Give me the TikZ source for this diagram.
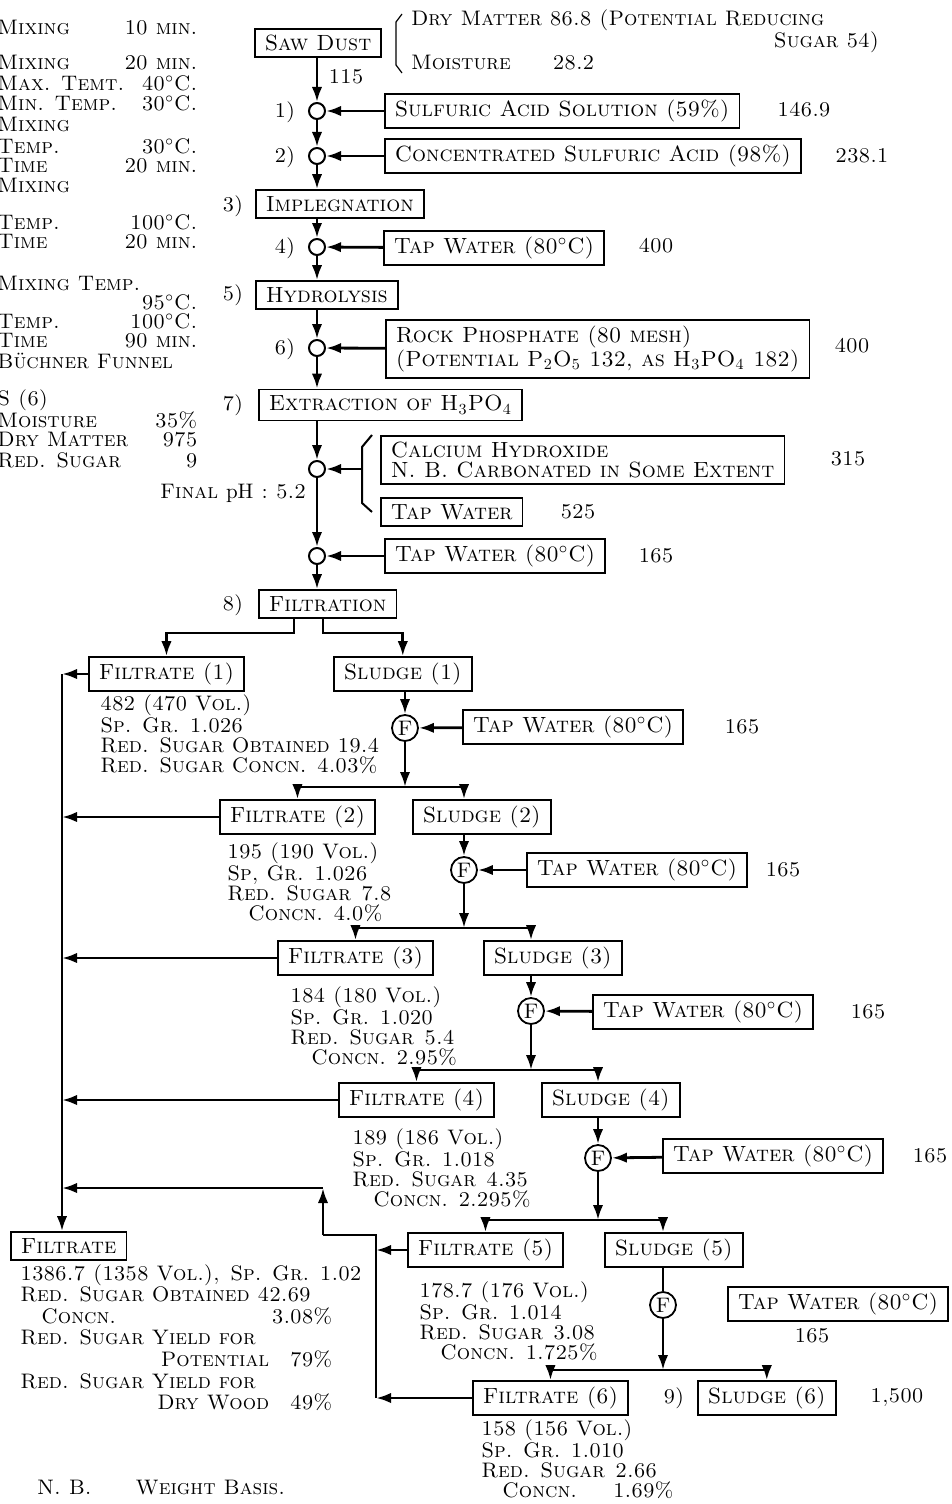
\documentclass[tikz,border=0pt]{standalone}
\usetikzlibrary{arrows.meta,positioning,calc}

\tikzset{
  box/.style={draw, line width=0.8pt, inner xsep=5pt, inner ysep=3pt, minimum height=14pt, anchor=west,
    font=\fontsize{11}{10}\selectfont\scshape},
  mix/.style={circle, draw, line width=1pt, minimum size=8pt, inner sep=0pt},
  fcirc/.style={circle, draw, line width=0.9pt, minimum size=13pt, inner sep=0pt},
  flow/.style={line width=1.4pt, -{Latex[length=7.5pt,width=5.2pt]}},
  pipe/.style={line width=1.4pt},
  info/.style={anchor=north west, align=left, inner sep=0pt},
}

\begin{document}
\begin{tikzpicture}[x=0.5pt, y=-0.5pt, font=\fontsize{10.5}{10}\selectfont\scshape]
\useasboundingbox (0,0) rectangle (952,1504);

% conditions of each step, left margin
\foreach \y/\a/\b in {28/Mixing/10 min., 63/Mixing/20 min., 83/Max. Temt./40$^\circ$C.,
    103/Min. Temp./30$^\circ$C., 124/Mixing/{}, 146/Temp./30$^\circ$C., 166/Time/20 min.,
    185/Mixing/{}, 222/Temp./100$^\circ$C., 242/Time/20 min., 283/Mixing Temp./{},
    302/{}/95$^\circ$C., 321/Temp./100$^\circ$C., 341/Time/90 min., 361/Büchner Funnel/{},
    400/S (6)/{}, 420/Moisture/35\%, 440/Dry Matter/975, 460/Red. Sugar/9}
  \node[anchor=west, inner sep=0pt] (note\y) at (-3,\y) {\makebox[100pt][l]{\a\hfill\b}};

% saw dust
\node[box] (saw) at (254,43) {Saw Dust};
\draw[line width=0.6pt] (402,14) -- (396,22) -- (396,65) -- (402,73);
\node[anchor=west] (dry) at (404,20) {Dry Matter 86.8 (Potential Reducing};
\node[anchor=east] (sug) at (886,42) {Sugar 54)};
\node[anchor=west] (moi) at (404,63) {Moisture\qquad 28.2};
\node (q0) at (346,77) {115};

% acid impregnation
\node[mix] (m1) at (317,111) {};
\node (l1) at (285,112) {1)};
\node[box] (acid1) at (384,111) {Sulfuric Acid Solution (59\%)};
\node (q1) at (804,110) {146.9};
\draw[flow] (saw.south -| m1) -- (m1);
\draw[flow] (acid1) -- (m1);

\node[mix] (m2) at (317,156) {};
\node (l2) at (285,157) {2)};
\node[box] (acid2) at (384,156) {Concentrated Sulfuric Acid (98\%)};
\node (q2) at (862,156) {238.1};
\draw[flow] (m1) -- (m2);
\draw[flow] (acid2) -- (m2);

\node[box] (imp) at (255,204) {Implegnation};
\node (l3) at (233,206) {3)};
\draw[flow] (m2) -- (m2 |- imp.north);

% hydrolysis
\node[mix] (m4) at (317,247) {};
\node (l4) at (285,248) {4)};
\node[box] (tw1) at (383,248) {Tap Water (80$^\circ$C)};
\node (q4) at (656,246) {400};
\draw[flow] (imp.south -| m4) -- (m4);
\draw[flow] (tw1) -- (m4);

\node[box] (hyd) at (255,295) {Hydrolysis};
\node (l5) at (233,295) {5)};
\draw[flow] (m4) -- (m4 |- hyd.north);

% phosphate
\node[mix] (m6) at (317,348) {};
\node (l6) at (285,349) {6)};
\node[box, align=left] (rock) at (385,349) {Rock Phosphate (80 mesh)\\(Potential P\textsubscript{2}O\textsubscript{5} 132, as H\textsubscript{3}PO\textsubscript{4} 182)};
\node (q6) at (852,346) {400};
\draw[flow] (hyd.south -| m6) -- (m6);
\draw[flow] (rock) -- (m6);

\node[box] (ext) at (258,405) {Extraction of H\textsubscript{3}PO\textsubscript{4}};
\node (l7) at (233,405) {7)};
\draw[flow] (m6) -- (m6 |- ext.north);

% neutralisation
\node[mix] (m7) at (317,469) {};
\draw[flow] (ext.south -| m7) -- (m7);
\node[box, align=left] (lime) at (380,460) {Calcium Hydroxide\\N. B. Carbonated in Some Extent};
\node[box] (tw0) at (380,512) {Tap Water};
\node (q7) at (848,459) {315};
\node (q7b) at (578,512) {525};
\draw[line width=1pt] (372,435) -- (362,447) -- (362,503) -- (372,512);
\coordinate (brace) at (362,469);
\draw[flow] (brace) -- (m7);
\node[anchor=east] (ph) at (313,493) {Final {\upshape pH} : 5.2};

\node[mix] (m8) at (317,556) {};
\draw[flow] (m7) -- (m8);
\node[box] (tw2) at (384,556) {Tap Water (80$^\circ$C)};
\node (q8) at (656,556) {165};
\draw[flow] (tw2) -- (m8);

\node[box] (filt) at (258,604) {Filtration};
\node (l8) at (233,605) {8)};
\draw[flow] (m8) -- (m8 |- filt.north);

% first filtration
\node[box] (fil1) at (88,674) {Filtrate (1)};
\node[box] (sl1) at (333,674) {Sludge (1)};
\coordinate (s1) at (294,633);
\coordinate (s2) at (323,633);
\draw[flow] (filt.south -| s1) -- (s1) -| (fil1.north);
\draw[flow] (filt.south -| s2) -- (s2) -| (sl1.north);
\node[info] (d1info) at (100,694) {482 (470 Vol.)\\Sp. Gr.\enspace 1.026\\Red. Sugar Obtained 19.4\\Red. Sugar Concn.\enspace 4.03\%};

% collecting line
\coordinate (col) at (62,674);
\node[box] (total) at (10,1246) {Filtrate};
\draw[flow] (fil1.west) -- (fil1.west -| col);
\draw[flow] (fil1.west -| col) -- (col |- total.north);

% washing 1
\node[fcirc] (f1) at (405,728) {F};
\draw[flow] (sl1.south -| f1) -- (f1);
\node[box] (tw3) at (462,727) {Tap Water (80$^\circ$C)};
\node (q9) at (742,727) {165};
\draw[flow] (tw3) -- (f1);
\coordinate (b1) at (405,787);
\draw[flow] (f1) -- (b1);

\node[box] (fil2) at (219,817) {Filtrate (2)};
\node[box] (sl2) at (412,817) {Sludge (2)};
\node[fcirc] (f2) at (464,870) {F};
\draw[flow] (b1) -| (fil2.north);
\draw[flow] (b1) -| (f2 |- sl2.north);
\draw[flow] (fil2.west) -- (fil2.west -| col);
\node[info] (d2info) at (227,842) {195 (190 Vol.)\\Sp, Gr.\enspace 1.026\\Red. Sugar\enspace 7.8\\\quad Concn.\enspace 4.0\%};

% washing 2
\draw[flow] (sl2.south -| f2) -- (f2);
\node[box] (tw4) at (526,870) {Tap Water (80$^\circ$C)};
\node (q10) at (783,870) {165};
\draw[flow] (tw4) -- (f2);
\coordinate (b2) at (464,928);
\draw[flow] (f2) -- (b2);

\node[box] (fil3) at (277,958) {Filtrate (3)};
\node[box] (sl3) at (483,958) {Sludge (3)};
\node[fcirc] (f3) at (531,1011) {F};
\draw[flow] (b2) -| (fil3.north);
\draw[flow] (b2) -| (f3 |- sl3.north);
\draw[flow] (fil3.west) -- (fil3.west -| col);
\node[info] (d3info) at (290,986) {184 (180 Vol.)\\Sp. Gr.\enspace 1.020\\Red. Sugar\enspace 5.4\\\quad Concn.\enspace 2.95\%};

% washing 3
\draw[flow] (sl3.south -| f3) -- (f3);
\node[box] (tw5) at (592,1012) {Tap Water (80$^\circ$C)};
\node (q11) at (868,1012) {165};
\draw[flow] (tw5) -- (f3);
\coordinate (b3) at (531,1070);
\draw[flow] (f3) -- (b3);

\node[box] (fil4) at (338,1100) {Filtrate (4)};
\node[box] (sl4) at (541,1100) {Sludge (4)};
\node[fcirc] (f4) at (598,1158) {F};
\draw[flow] (b3) -| (fil4.north);
\draw[flow] (b3) -| (f4 |- sl4.north);
\draw[flow] (fil4.west) -- (fil4.west -| col);
\node[info] (d4info) at (352,1128) {189 (186 Vol.)\\Sp. Gr.\enspace 1.018\\Red. Sugar\enspace 4.35\\\quad Concn.\enspace 2.295\%};

% washing 4
\draw[flow] (sl4.south -| f4) -- (f4);
\node[box] (tw6) at (662,1156) {Tap Water (80$^\circ$C)};
\node (q12) at (930,1156) {165};
\draw[flow] (tw6) -- (f4);
\coordinate (b4) at (598,1220);
\draw[flow] (f4) -- (b4);

\node[box] (fil5) at (407,1250) {Filtrate (5)};
\node[box] (sl5) at (604,1250) {Sludge (5)};
\node[fcirc] (f5) at (663,1305) {F};
\draw[flow] (b4) -| (fil5.north);
\draw[flow] (b4) -| (f5 |- sl5.north);
\node[info] (d5info) at (419,1281) {178.7 (176 Vol.)\\Sp. Gr.\enspace 1.014\\Red. Sugar\enspace 3.08\\\quad Concn.\enspace 1.725\%};

% washing 5
\draw[pipe] (sl5.south -| f5) -- (f5);
\node[box] (tw7) at (727,1304) {Tap Water (80$^\circ$C)};
\node (q13) at (812,1336) {165};
\coordinate (b5) at (663,1370);
\draw[flow] (f5) -- (b5);

\node[box] (fil6) at (472,1398) {Filtrate (6)};
\node (l9) at (674,1398) {9)};
\node[box] (sl6) at (697,1398) {Sludge (6)};
\node (q14) at (897,1398) {1,500};
\draw[flow] (b5) -| (fil6.north);
\draw[flow] (b5) -| (sl6.north);
\node[info] (d6info) at (481,1419) {158 (156 Vol.)\\Sp. Gr.\enspace 1.010\\Red. Sugar\enspace 2.66\\\quad Concn.\hspace{18pt}1.69\%};

% return of filtrates 5 and 6
\coordinate (r1) at (376,1235);
\coordinate (r2) at (323,1235);
\coordinate (r3) at (323,1188);
\draw[flow] (fil5.west) -- (fil5.west -| r1);
\draw[flow] (fil6.west) -- (fil6.west -| r1);
\draw[pipe] (fil6.west -| r1) -- (r1) -- (r2);
\draw[flow] (r2) -- (r3);
\draw[flow] (r3) -- (r3 -| col);

% total filtrate
\node[info, font=\fontsize{10.5}{10.8}\selectfont\scshape] (dtinfo) at (20,1264) {1386.7 (1358 Vol.),\enspace Sp. Gr. 1.02\\Red. Sugar Obtained 42.69\\\makebox[156pt][l]{\quad Concn.\hfill 3.08\%}\\Red. Sugar Yield for\\\makebox[156pt][r]{Potential\quad 79\%}\\Red. Sugar Yield for\\\makebox[156pt][r]{Dry Wood\quad 49\%}};

\node[anchor=west] (nb) at (30,1488) {N. B.\hspace{22pt}Weight Basis.};

\end{tikzpicture}
\end{document}
